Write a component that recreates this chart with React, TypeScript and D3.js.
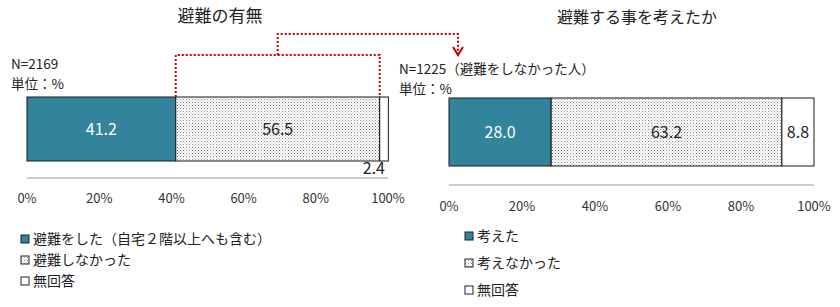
import * as d3 from "d3"
import React from "react"

const leftLabels = ["避難をした（自宅２階以上へも含む）", "避難しなかった", "無回答"]
const leftValues = [41.2, 56.5, 2.4]
const rightLabels = ["考えた", "考えなかった", "無回答"]
const rightValues = [28.0, 63.2, 8.8]
const ticks = [0, 20, 40, 60, 80, 100]

const W = 840
const H = 307
const TEAL = "#31849B"
const FONT = "'Noto Sans CJK JP', 'Noto Sans', sans-serif"
const fills = [TEAL, "url(#dots)", "#fff"]
const textColors = ["#fff", "#222", "#222"]

const segs = (values) => {
  let acc = 0
  return values.map((v) => {
    const s = { start: acc, end: acc + v, value: v }
    acc += v
    return s
  })
}

const Panel = (props) => {
  const { x0, x1, top, bottom, axisY, tickY, values, smallOutside } = props
  const x = d3.scaleLinear().domain([0, 100]).range([x0, x1])
  return (
    <g>
      {segs(values).map((s, i) => (
        <rect key={i} x={x(s.start)} y={top} width={x(s.end) - x(s.start)} height={bottom - top}
          fill={fills[i]} stroke="#1a1a1a" strokeWidth={1} />
      ))}
      {segs(values).map((s, i) => {
        const outside = smallOutside && s.value < 5
        return (
          <text key={i} x={outside ? x(100) - 3 : (x(s.start) + x(s.end)) / 2}
            y={outside ? bottom + 13 : (top + bottom) / 2 + 6}
            textAnchor={outside ? "end" : "middle"}
            fontSize={16} fill={textColors[i]}>{s.value.toFixed(1)}</text>
        )
      })}
      <line x1={x(0)} x2={x(100)} y1={axisY} y2={axisY} stroke="#999" />
      {ticks.map((t) => (
        <text key={t} x={x(t)} y={tickY} textAnchor="middle" fontSize={13} fill="#333">{t}%</text>
      ))}
    </g>
  )
}

const Legend = ({ x, ys, labels }) => (
  <g>
    {labels.map((l, i) => (
      <g key={l} transform={`translate(${x},${ys[i]})`}>
        <rect x={0} y={-4} width={8} height={8} fill={fills[i]} stroke="#222" strokeWidth={1} />
        <text x={12} y={5} fontSize={14} fill="#222">{l}</text>
      </g>
    ))}
  </g>
)

export default function App() {
  const xl = d3.scaleLinear().domain([0, 100]).range([27, 388])
  const a = xl(leftValues[0])
  const b = xl(leftValues[0] + leftValues[1])
  const mid = (a + b) / 2
  const arrowX = 458
  const red = "#c00000"
  return (
    <svg width={W} height={H} style={{ position: "absolute", left: 0, top: 0, fontFamily: FONT }}>
      <defs>
        <pattern id="dots" width={3} height={3} patternUnits="userSpaceOnUse">
          <rect width={3} height={3} fill="#fff" />
          <rect x={0} y={0} width={1} height={1} fill="#888" />
          <rect x={1.5} y={1.5} width={1} height={1} fill="#aaa" />
        </pattern>
      </defs>
      <rect width={W} height={H} fill="#fff" />
      <text x={220} y={22} textAnchor="middle" fontSize={17} fill="#222">避難の有無</text>
      <text x={637} y={23} textAnchor="middle" fontSize={16} fill="#222">避難する事を考えたか</text>
      <text x={11} y={69} fontSize={13.5} fill="#222">N=2169</text>
      <text x={11} y={89} fontSize={13.5} fill="#222">単位：%</text>
      <text x={399} y={74} fontSize={13.5} fill="#222">N=1225（避難をしなかった人）</text>
      <text x={399} y={94} fontSize={13.5} fill="#222">単位：%</text>
      <Panel x0={27} x1={388} top={97} bottom={161} axisY={178} tickY={203} values={leftValues} smallOutside />
      <Panel x0={449} x1={814} top={98} bottom={166} axisY={185} tickY={211} values={rightValues} />
      <g fill="none" stroke={red} strokeWidth={2} strokeDasharray="2,2">
        <path d={`M${a},97V55H${b}V97`} />
        <path d={`M${mid},55V34H${arrowX}V52`} />
      </g>
      <path d={`M${arrowX - 5},47L${arrowX},55L${arrowX + 5},47`} fill="none" stroke={red} strokeWidth={2} />
      <Legend x={21} ys={[239, 260, 281]} labels={leftLabels} />
      <Legend x={465} ys={[236, 263, 290]} labels={rightLabels} />
    </svg>
  )
}
